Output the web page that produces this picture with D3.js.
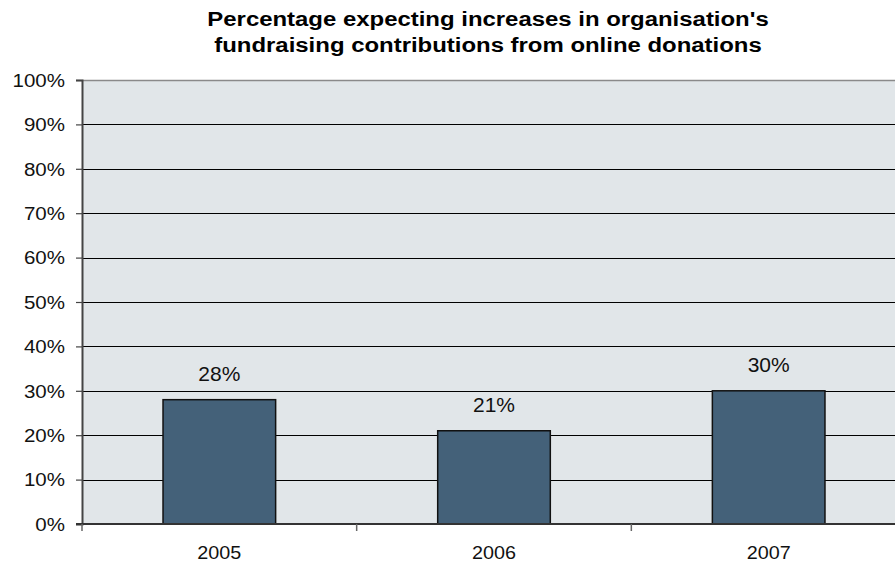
<!DOCTYPE html>
<html>
<head>
<meta charset="utf-8">
<script src="https://cdn.jsdelivr.net/npm/d3@7"></script>
<style>
  html, body { margin: 0; padding: 0; background: #fff; }
  svg { display: block; font-family: "Liberation Sans", Arial, sans-serif; }
</style>
</head>
<body>
<svg id="chart" width="895" height="564"></svg>
<script>
// Survey results by year
const years = ["2005", "2006", "2007"];
const percentExpectingIncrease = [28, 21, 30];
const yTicks = [0, 10, 20, 30, 40, 50, 60, 70, 80, 90, 100];
const titleLines = [
  "Percentage expecting increases in organisation's",
  "fundraising contributions from online donations"
];

const svg = d3.select("#chart");
const plot = { left: 82, right: 906, top: 80, bottom: 524 };

const x = d3.scaleBand()
  .domain(years)
  .range([plot.left, plot.right])
  .paddingInner(0.59)
  .paddingOuter(0.295);

const xBand = d3.scaleBand().domain(years).range([plot.left, plot.right]);

const y = d3.scaleLinear().domain([0, 100]).range([plot.bottom, plot.top]);

// Plot background
svg.append("rect")
  .attr("x", plot.left).attr("y", plot.top)
  .attr("width", plot.right - plot.left).attr("height", plot.bottom - plot.top)
  .attr("fill", "#E1E6E9");

// Horizontal gridlines
svg.append("g")
  .selectAll("line")
  .data(yTicks.filter(d => d > 0 && d < 100))
  .join("line")
  .attr("x1", plot.left).attr("x2", plot.right)
  .attr("y1", d => Math.round(y(d)) + 0.5).attr("y2", d => Math.round(y(d)) + 0.5)
  .attr("stroke", "#000").attr("stroke-width", 1);

// Top border of the plot
svg.append("line")
  .attr("x1", plot.left).attr("x2", plot.right)
  .attr("y1", plot.top + 0.5).attr("y2", plot.top + 0.5)
  .attr("stroke", "#8a8a8a").attr("stroke-width", 1.5);

// Bars
svg.append("g")
  .selectAll("rect")
  .data(years)
  .join("rect")
  .attr("x", d => x(d))
  .attr("y", (d, i) => y(percentExpectingIncrease[i]))
  .attr("width", x.bandwidth())
  .attr("height", (d, i) => y(0) - y(percentExpectingIncrease[i]))
  .attr("fill", "#446179")
  .attr("stroke", "#111")
  .attr("stroke-width", 1.5);

// Value labels
svg.append("g")
  .selectAll("text")
  .data(years)
  .join("text")
  .attr("transform", (d, i) =>
    `translate(${x(d) + x.bandwidth() / 2},${y(percentExpectingIncrease[i]) - 19}) scale(1.05,1)`)
  .attr("text-anchor", "middle")
  .attr("font-size", 20)
  .attr("fill", "#111")
  .text((d, i) => percentExpectingIncrease[i] + "%");

// Y axis
const yAxis = d3.axisLeft(y)
  .tickValues(yTicks)
  .tickFormat(d => d + "%")
  .tickSize(6);

const gy = svg.append("g")
  .attr("transform", `translate(${plot.left},0)`)
  .call(yAxis);
gy.select(".domain").attr("stroke", "#444").attr("stroke-width", 2);
gy.selectAll(".tick line").attr("stroke", "#444").attr("stroke-width", 1.2);
gy.selectAll(".tick text")
  .attr("x", 0)
  .attr("dy", "0.33em")
  .attr("transform", "translate(-17,0) scale(1.08,1)")
  .attr("font-size", 19)
  .attr("font-family", "Liberation Sans, Arial, sans-serif")
  .attr("fill", "#111");

// X axis: ticks between categories, labels at centres
const gx = svg.append("g").attr("transform", `translate(0,${plot.bottom})`);
gx.append("line")
  .attr("x1", plot.left - 6).attr("x2", plot.right)
  .attr("y1", 0).attr("y2", 0)
  .attr("stroke", "#333").attr("stroke-width", 2);
gx.selectAll("line.sep")
  .data(years)
  .join("line")
  .attr("class", "sep")
  .attr("x1", d => xBand(d)).attr("x2", d => xBand(d))
  .attr("y1", 0).attr("y2", 7)
  .attr("stroke", "#666").attr("stroke-width", 1.5);
gx.selectAll("text")
  .data(years)
  .join("text")
  .attr("transform", d => `translate(${xBand(d) + xBand.bandwidth() / 2},35) scale(1.04,1)`)
  .attr("text-anchor", "middle")
  .attr("font-size", 19)
  .attr("fill", "#111")
  .text(d => d);

// Title
svg.append("g")
  .selectAll("text")
  .data(titleLines)
  .join("text")
  .attr("transform", (d, i) => `translate(488,${26 + i * 26}) scale(1.14,1)`)
  .attr("text-anchor", "middle")
  .attr("font-size", 21)
  .attr("font-weight", "bold")
  .attr("fill", "#000")
  .text(d => d);
</script>
</body>
</html>
